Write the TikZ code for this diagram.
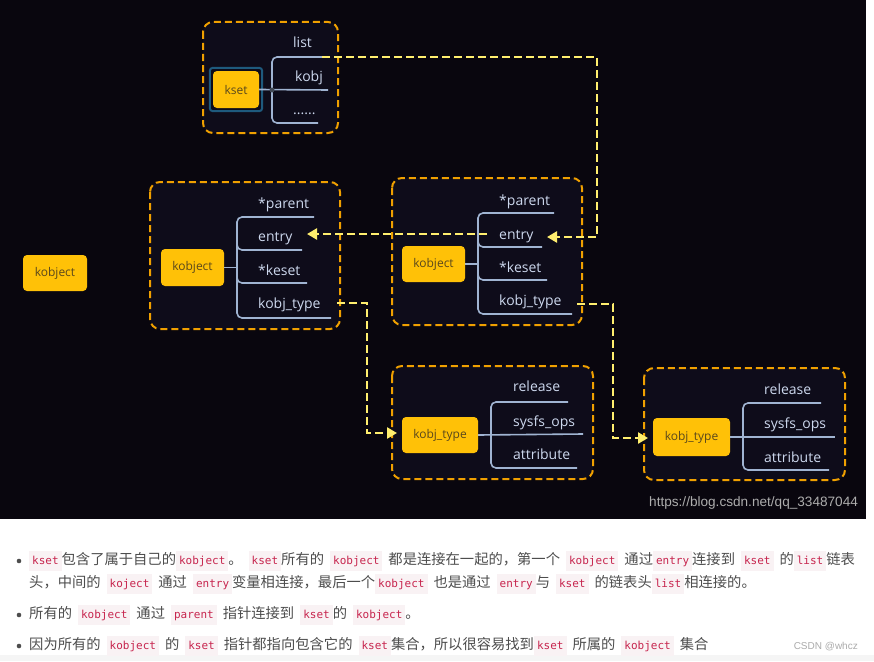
\documentclass[tikz,border=0pt]{standalone}
\usepackage{fontspec}
\setmainfont{Open Sans}
\newfontfamily\cjk{Noto Sans CJK SC}
\newfontfamily\codefont{DejaVu Sans Mono}
\newfontfamily\wmfont{Liberation Sans}
\usetikzlibrary{arrows.meta,positioning}

\definecolor{bgdark}{RGB}{9,6,14}
\definecolor{boxdark}{RGB}{14,12,26}
\definecolor{grporange}{RGB}{240,160,0}
\definecolor{objyellow}{RGB}{255,193,7}
\definecolor{objtext}{RGB}{90,72,28}
\definecolor{treeblue}{RGB}{160,180,210}
\definecolor{fieldtext}{RGB}{205,216,238}
\definecolor{linkyellow}{RGB}{255,238,110}
\definecolor{ksetframe}{RGB}{30,90,125}
\definecolor{bodytext}{RGB}{77,77,77}
\definecolor{codebg}{RGB}{249,242,244}
\definecolor{codered}{RGB}{199,37,78}

\newcommand\cod[1]{{\setlength\fboxsep{3pt}\colorbox{codebg}{\rule[-4pt]{0pt}{14pt}\codefont\fontsize{11}{13}\selectfont\color{codered}#1}}}
\newcommand\notefont{\cjk\fontsize{14.3}{17}\selectfont\spaceskip=6pt plus 1pt\relax}

\begin{document}
\begin{tikzpicture}[x=1pt,y=-1pt]
\tikzstyle{group} = [draw=grporange, fill=boxdark, line width=2pt, dash pattern=on 7pt off 4pt, rounded corners=10pt]
\tikzstyle{obj} = [fill=objyellow, rounded corners=4pt, text=objtext, inner sep=0pt, font=\fontsize{12}{14}\selectfont]
\tikzstyle{field} = [anchor=base west, text=fieldtext, inner sep=0pt, font=\fontsize{14}{16}\selectfont]
\tikzstyle{tree} = [draw=treeblue, line width=1.6pt, rounded corners=5pt]
\tikzstyle{link} = [draw=linkyellow, line width=2.5pt, dash pattern=on 8pt off 4pt, -{Triangle[length=10pt,width=11pt]}]
\tikzstyle{line} = [anchor=west, inner sep=0pt, text=bodytext, font=\notefont]

\useasboundingbox (0,0) rectangle (874,661);
\fill[white] (0,0) rectangle (874,661);
\fill[bgdark] (0,0) rectangle (866,519);
\fill[black!4] (0,655) rectangle (874,661);

% kset
\draw[group] (203,22) rectangle (338,133);
\node[obj, minimum width=46pt, minimum height=37pt] (kset) at (236,89.5) {kset};
\draw[ksetframe, line width=2pt, rounded corners=3pt] ([shift={(-3,-3)}]kset.north west) rectangle ([shift={(3,3)}]kset.south east);
\draw[tree] (322,57) -- (272,57) -- (272,123) -- (318,123);
\draw[tree] (kset.east) -- (328,90);
\fill[treeblue!40!black] (272,90) circle (2.5pt);
\node[field] (kset-list) at (293,48) {list};
\node[field] (kset-kobj) at (295,81) {kobj};
\node[field] (kset-dots) at (293,114) {......};
\coordinate (kset-listend) at (322,57);

% kobject (left)
\draw[group] (150,182) rectangle (340,329);
\node[obj, minimum width=63pt, minimum height=37pt] (A) at (192.5,267.5) {kobject};
\draw[tree] (314,217) -- (237,217) -- (237,318) -- (331,318);
\draw[tree] (237,244) |- (302,250);
\draw[tree] (237,277) |- (307,283);
\draw[tree] (A.east) -- (237,267.5);
\node[field] (A-parent) at (258,208) {*parent};
\node[field] (A-entry) at (258,241.5) {entry};
\node[field] (A-keset) at (258,275) {*keset};
\node[field] (A-type) at (258,308) {kobj\_type};
\coordinate (A-entryin) at (307,234);
\coordinate (A-typeout) at (337,303);

% kobject (right)
\draw[group] (392,178) rectangle (582,325);
\node[obj, minimum width=63pt, minimum height=36pt] (B) at (433.5,264) {kobject};
\draw[tree] (554,213) -- (478,213) -- (478,314) -- (572,314);
\draw[tree] (478,241) |- (542,247);
\draw[tree] (478,274) |- (547,280);
\draw[tree] (B.east) -- (478,264);
\node[field] (B-parent) at (499,205) {*parent};
\node[field] (B-entry) at (499,239) {entry};
\node[field] (B-keset) at (499,272) {*keset};
\node[field] (B-type) at (499,305.5) {kobj\_type};
\coordinate (B-entryin) at (547,237);
\coordinate (B-entryout) at (487,234);
\coordinate (B-typeout) at (577,304);

% kobj_type (middle)
\draw[group] (392,366) rectangle (593,479);
\node[obj, minimum width=76pt, minimum height=36pt] (C) at (440,435) {kobj\_type};
\draw[tree] (568,402) -- (491,402) -- (491,468) -- (577,468);
\draw[tree] (C.east) -- (583,434);
\node[field] (C-release) at (513,391.5) {release};
\node[field] (C-ops) at (513,426.5) {sysfs\_ops};
\node[field] (C-attr) at (513,459) {attribute};
\coordinate (C-in) at (397,433);

% kobj_type (right)
\draw[group] (644,368) rectangle (845,480);
\node[obj, minimum width=77pt, minimum height=38pt] (D) at (691.5,437) {kobj\_type};
\draw[tree] (821,403) -- (743,403) -- (743,470) -- (829,470);
\draw[tree] (D.east) -- (835,437);
\node[field] (D-release) at (764,394) {release};
\node[field] (D-ops) at (764,428) {sysfs\_ops};
\node[field] (D-attr) at (764,462) {attribute};
\coordinate (D-in) at (648,438);

% lone kobject
\node[obj, minimum width=64pt, minimum height=36pt] (kobj0) at (55,273) {kobject};

% links
\coordinate (bend1) at (597,237);
\coordinate (bend3) at (367,433);
\coordinate (bend4) at (613,438);
\draw[link] (kset-listend) -| (bend1) -- (B-entryin);
\draw[link] (B-entryout) -- (A-entryin);
\draw[link] (A-typeout) -| (bend3) -- (C-in);
\draw[link] (B-typeout) -| (bend4) -- (D-in);

\node[anchor=west, inner sep=0pt, text=black!32, font=\wmfont\fontsize{13.6}{15}\selectfont] (wm) at (649,503) {https://blog.csdn.net/qq\_33487044};

% notes
\foreach \y in {561,615,646} \fill[bodytext] (19,\y) circle (2.3pt);
\node[line] (l1) at (29,561) {\cod{kset}包含了属于自己的\cod{kobject}。 \cod{kset}所有的 \cod{kobject} 都是连接在一起的，第一个 \cod{kobject} 通过\cod{entry}连接到 \cod{kset} 的\cod{list}链表};
\node[line] (l2) at (29,584) {头，中间的 \cod{koject} 通过 \cod{entry}变量相连接，最后一个\cod{kobject} 也是通过 \cod{entry}与 \cod{kset} 的链表头\cod{list}相连接的。};
\node[line] (l3) at (29,615) {所有的 \cod{kobject} 通过 \cod{parent} 指针连接到 \cod{kset}的 \cod{kobject}。};
\node[line] (l4) at (29,646) {因为所有的 \cod{kobject} 的 \cod{kset} 指针都指向包含它的 \cod{kset}集合，所以很容易找到\cod{kset} 所属的 \cod{kobject} 集合};
\node[anchor=east, inner sep=0pt, text=black!33, font=\wmfont\fontsize{10}{12}\selectfont] (csdn) at (858,647) {CSDN @whcz};
\end{tikzpicture}
\end{document}
